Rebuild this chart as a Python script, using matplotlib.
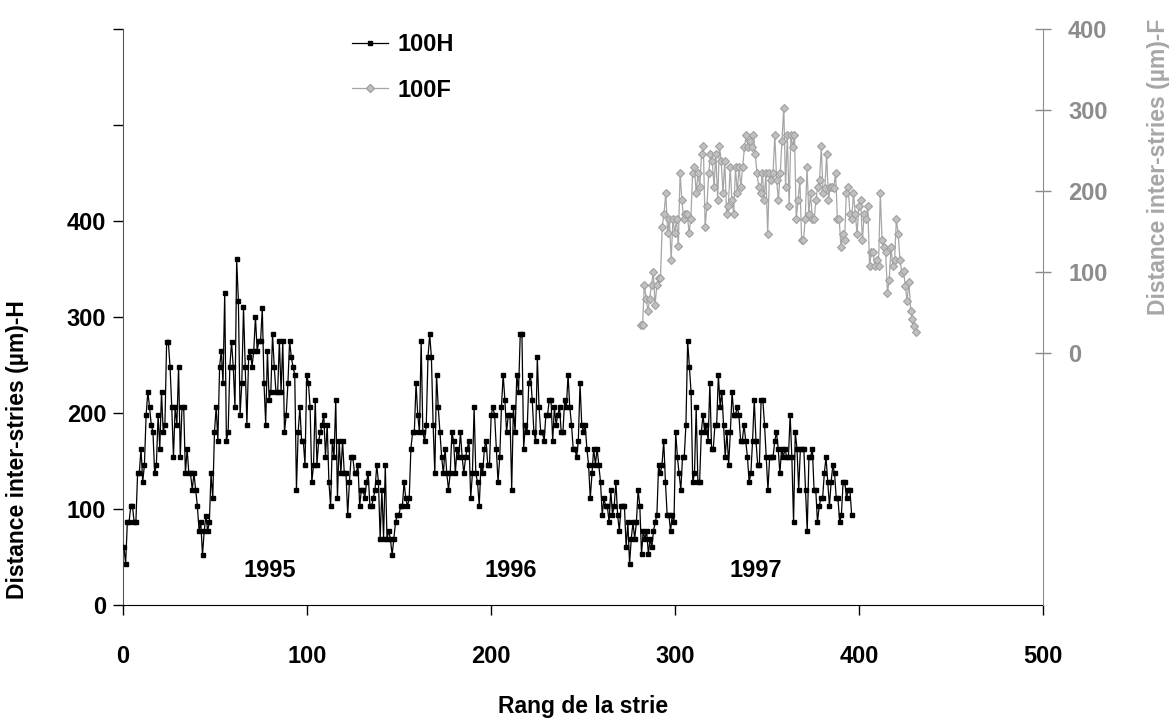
import numpy as np
import matplotlib
matplotlib.use("Agg")
import matplotlib.pyplot as plt
from matplotlib.lines import Line2D

plt.rcParams['font.family'] = ['Liberation Sans', 'DejaVu Sans']
plt.rcParams['font.weight'] = 'bold'

# ---------------- data ----------------
# 100H : inter-striae distance (µm) along the striae rank
dist_H = [
    60, 43, 86, 86, 103, 103, 86, 86, 137, 137, 163, 128, 146, 198, 222, 206, 188, 180, 137, 146,
    198, 163, 222, 180, 188, 274, 274, 248, 206, 154, 206, 188, 248, 154, 206, 206, 137, 163, 137, 137,
    120, 137, 120, 103, 77, 86, 52, 77, 93, 77, 86, 137, 111, 180, 206, 171, 248, 265, 231, 325,
    171, 180, 248, 274, 248, 206, 360, 317, 198, 231,
    310, 248, 188, 258, 265, 248, 265, 300, 265, 275, 275, 309, 231, 188, 265, 214, 222, 282, 248, 222,
    222, 275, 222, 275, 180, 198, 231, 275, 258, 248, 240, 120, 180, 206, 171, 171, 146, 240, 231, 206,
    128, 146, 214, 146, 171, 180, 188, 198, 154, 188, 128, 103, 171, 154, 214, 111, 171, 137, 171, 137,
    137, 94, 128, 154, 154, 137, 137, 146, 103, 120,
    120, 111, 128, 137, 103, 103, 111, 120, 146, 128, 69, 120, 69, 146, 69, 77, 69, 52, 69, 86,
    94, 94, 103, 103, 128, 111, 103, 111, 163, 180, 180, 231, 198, 180, 275, 180, 171, 188, 258, 282,
    258, 188, 137, 240, 206, 180, 154, 137, 163, 137, 120, 137, 180, 171, 137, 163, 154, 180, 154, 137,
    154, 163, 171, 111, 137, 206, 137, 128, 103, 146,
    137, 163, 171, 146, 146, 198, 206, 198, 163, 128, 154, 206, 240, 214, 180, 198, 198, 120, 206, 180,
    240, 222, 282, 282, 163, 188, 180, 231, 240, 214, 180, 171, 258, 206, 180, 180, 171, 198, 198, 214,
    214, 171, 206, 188, 198, 206, 180, 180, 214, 206, 240, 206, 188, 163, 163, 154, 171, 231, 188, 180,
    188, 163, 146, 111, 137, 163, 146,
    163, 146, 128, 94, 111, 103, 103, 86, 120, 94, 103, 128, 94, 77, 103, 103, 103, 60, 86, 43,
    69, 86, 69, 86, 120, 103, 53, 77, 69, 77, 53, 69, 60, 77, 86, 94, 146, 137, 146, 171,
    128, 94, 94, 77, 94, 86, 180, 154, 137, 120, 154, 154, 188, 275, 248, 222, 128, 137, 206, 128,
    128, 180, 198, 180, 188, 171, 231, 163, 163, 188, 188, 240, 206, 222, 188, 154, 180, 146,
    180, 222, 198, 198, 206, 198, 171, 171, 188, 171, 154, 128, 137, 171, 214, 171, 146, 146, 214, 214,
    188, 154, 120, 154, 154, 154, 171, 180, 163, 137, 163, 154, 163, 154, 154, 198, 154, 86, 180, 163,
    120, 163, 163, 163, 120, 77, 154, 154, 163, 120, 120, 86, 103, 111, 111, 137, 154, 128, 103, 128,
    146, 137, 111, 111, 86, 94, 128, 128, 111, 120, 120, 94,
]
rang_H_debut, rang_H_fin = 0.5, 396

# 100F : inter-striae distance (µm), secondary axis
dist_F = [
    34, 34, 84, 67, 51, 67, 84, 100, 59, 84, 92, 92, 156, 172, 197, 148, 165, 115, 165, 148,
    165, 132, 222, 189, 165, 172, 172, 148, 165, 222, 230, 197, 222, 205, 245, 255, 156, 181, 222, 245,
    237, 205, 245, 189, 255, 237, 197, 237, 172, 181, 229, 189, 172, 229, 197, 229, 205, 229, 254, 269,
    254, 262, 254, 269, 245, 222, 205, 197, 222, 189, 222, 147, 222, 213, 222, 269, 213, 189, 222, 262,
    303, 205, 269, 181, 269, 254, 269, 165, 189, 213, 139, 139, 165, 229, 172, 197, 165, 165, 189, 205,
    213, 255, 197, 204, 245, 189, 205, 205, 204, 222, 165, 165, 131, 147, 139, 197, 205, 172, 165, 197,
    172, 147, 181, 189, 139, 172, 165, 181, 107, 124, 124, 107, 115, 107, 197, 139, 131, 124, 74, 90,
    131, 107, 115, 165, 147, 115, 99, 101, 83, 64, 88, 52, 42, 33, 26,
]
rang_F_debut, rang_F_fin = 281.4, 431

annees = ["1995", "1996", "1997"]
annees_x = [80, 211, 344]
annees_y = 36

x_ticks = [0, 100, 200, 300, 400, 500]
yH_ticks = [0, 100, 200, 300, 400, 500, 600]
yH_labels = ["0", "100", "200", "300", "400", "", ""]
yF_ticks = [0, 100, 200, 300, 400]

rang_H = np.linspace(rang_H_debut, rang_H_fin, len(dist_H))
rang_F = np.linspace(rang_F_debut, rang_F_fin, len(dist_F))

# ---------------- figure ----------------
fig = plt.figure(figsize=(11.71, 7.22), dpi=100)
ax = fig.add_axes([123 / 1171, 1 - 605 / 722, (1043 - 123) / 1171, (605 - 29) / 722])
ax2 = ax.twinx()

gray = '#8c8c8c'
ax.plot(rang_H, dist_H, color='black', lw=0.9, marker='s', ms=3.3,
        mfc='black', mec='black', zorder=3)
ax2.plot(rang_F, dist_F, color='#a6a6a6', lw=0.9, marker='D', ms=4.2,
         mfc='#c0c0c0', mec='#a0a0a0', mew=0.8, zorder=3)

ax.set_xlim(0, 500)
ax.set_ylim(0, 600)
ax2.set_ylim(-311.6, 400)

fs = 17
ax.set_xticks(x_ticks)
ax.set_xticklabels([str(t) for t in x_ticks], fontsize=fs, fontweight='bold')
ax.set_yticks(yH_ticks)
ax.set_yticklabels(yH_labels, fontsize=fs, fontweight='bold')
ax2.set_yticks(yF_ticks)
ax2.set_yticklabels([str(t) for t in yF_ticks], fontsize=fs, fontweight='bold', color=gray)

ax.tick_params(axis='x', direction='out', length=7, width=1, pad=22, colors='black')
ax.tick_params(axis='y', direction='out', length=7, width=1, pad=5)
ax2.tick_params(axis='y', direction='inout', length=12, width=1, pad=12, colors=gray)
ax2.tick_params(axis='y', labelcolor=gray)

for a in (ax, ax2):
    a.spines['top'].set_visible(False)
ax.spines['right'].set_visible(False)
ax2.spines['left'].set_visible(False)
ax2.spines['bottom'].set_visible(False)
ax.spines['left'].set_color('#555555')
ax.spines['bottom'].set_color('black')
ax2.spines['right'].set_color(gray)

ax.set_xlabel("Rang de la strie", fontsize=16.5, fontweight='bold', labelpad=19)
fig.text(18 / 1171, 1 - 450 / 722, "Distance inter-stries (µm)-H", rotation=90,
         fontsize=16.5, fontweight='bold', ha='center', va='center')
fig.text(1158 / 1171, 1 - 167 / 722, "Distance inter-stries (µm)-F", rotation=90,
         fontsize=16.5, fontweight='bold', ha='center', va='center', color='#a6a6a6')

for lab, xx in zip(annees, annees_x):
    ax.text(xx, annees_y, lab, fontsize=17, fontweight='bold', ha='center', va='center')

handles = [
    Line2D([], [], color='black', lw=0.9, marker='s', ms=3.3, mfc='black', mec='black'),
    Line2D([], [], color='#a6a6a6', lw=0.9, marker='D', ms=4.2, mfc='#c0c0c0', mec='#a0a0a0'),
]
fig.legend(handles, ["100H", "100F"], loc='upper left',
           bbox_to_anchor=(331 / 1171, 1 - 12 / 722), frameon=False,
           prop={'size': 17, 'weight': 'bold'}, handlelength=1.5, handletextpad=0.4,
           labelspacing=0.95)

fig.savefig("out.png", dpi=100)
